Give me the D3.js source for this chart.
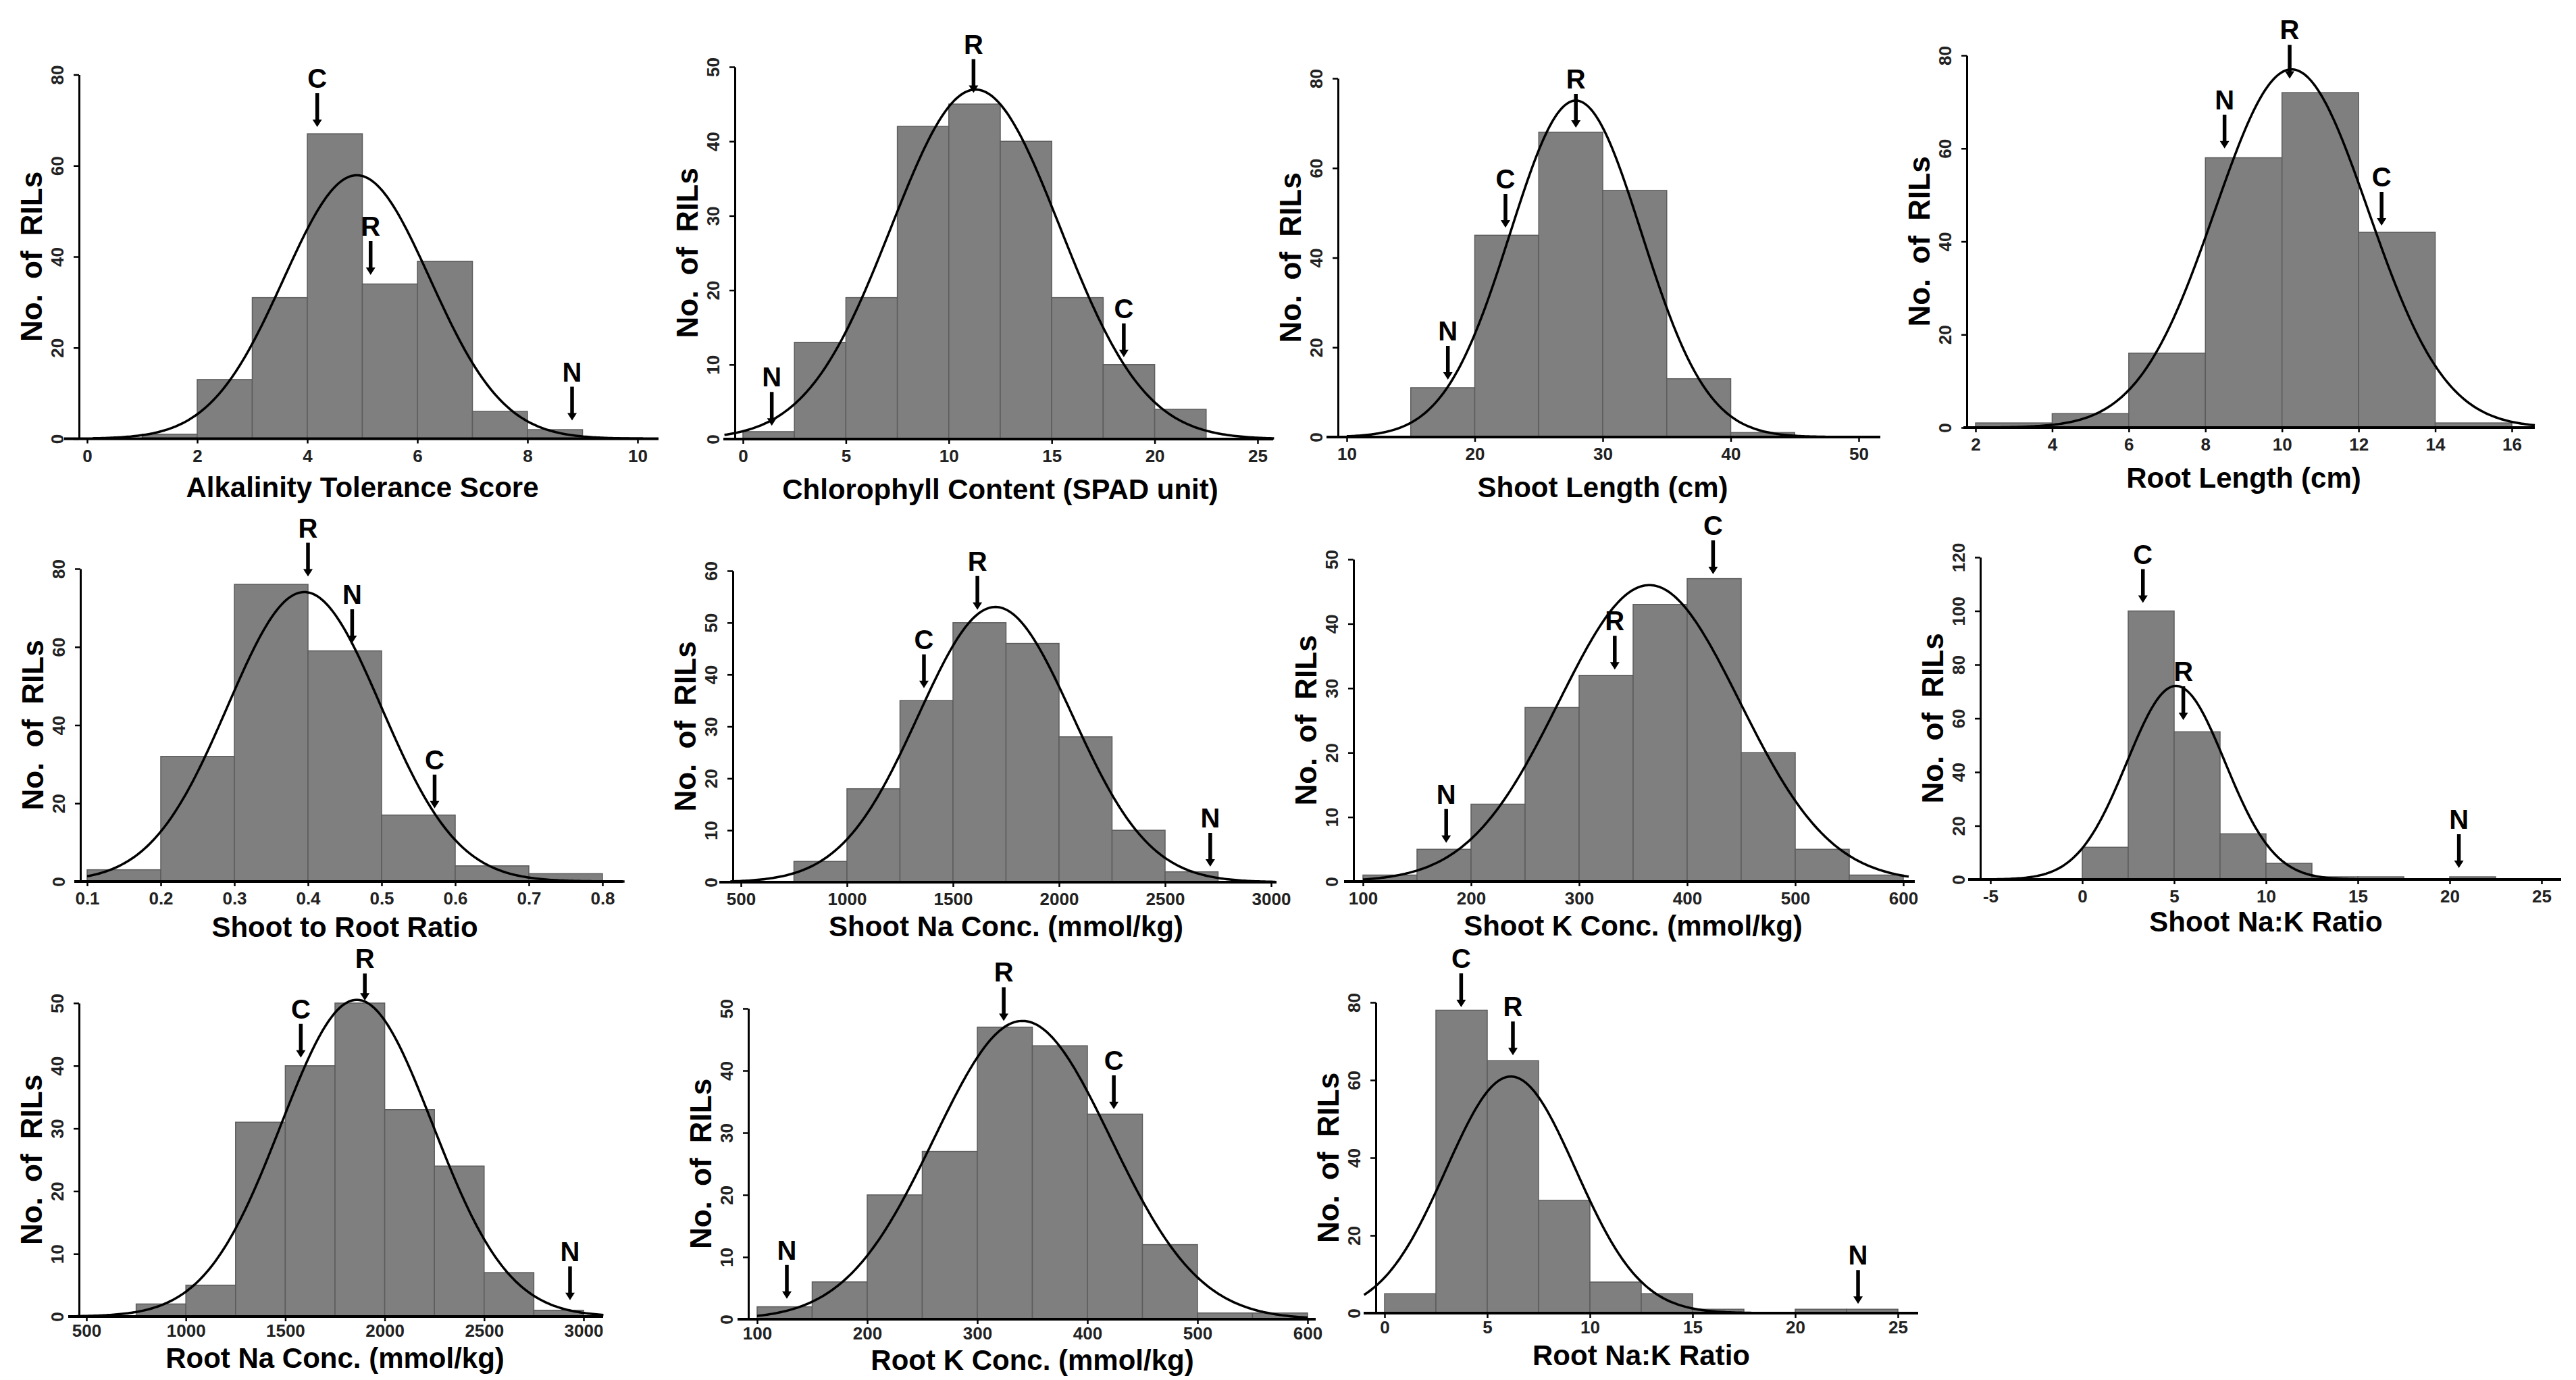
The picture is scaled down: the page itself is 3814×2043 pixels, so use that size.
<!DOCTYPE html>
<html lang="en">
<head>
    <meta charset="UTF-8">
    <title>RIL trait histograms</title>
    <style>
        body { margin: 0; background: #fff; }
        text { font-family: "Liberation Sans", Arial, sans-serif; }
    </style>
</head>
<body>
    <script src="https://d3js.org/d3.v7.min.js"></script>
    <script>
        // one entry per panel, row by row
        const xTitles = ['Alkalinity Tolerance Score', 'Chlorophyll Content (SPAD unit)', 'Shoot Length (cm)',
            'Root Length (cm)', 'Shoot to Root Ratio', 'Shoot Na Conc. (mmol/kg)', 'Shoot K Conc. (mmol/kg)',
            'Shoot Na:K Ratio', 'Root Na Conc. (mmol/kg)', 'Root K Conc. (mmol/kg)', 'Root Na:K Ratio'];
        const binStart = [1, 0, 15, 2, 0.1, 750, 100, 0, 750, 100, 0];
        const binWidth = [1, 2.5, 5, 2, 0.1, 250, 50, 2.5, 250, 50, 2.5];
        const counts = [
            [1, 13, 31, 67, 34, 39, 6, 2],
            [1, 13, 19, 42, 45, 40, 19, 10, 4],
            [11, 45, 68, 55, 13, 1],
            [1, 3, 16, 58, 72, 42, 1],
            [3, 32, 76, 59, 17, 4, 2],
            [4, 18, 35, 50, 46, 28, 10, 2],
            [1, 5, 12, 27, 32, 43, 47, 20, 5, 1],
            [12, 100, 55, 17, 6, 1, 1, 0, 1],
            [2, 5, 31, 40, 50, 33, 24, 7, 1],
            [2, 6, 20, 27, 47, 44, 33, 12, 1, 1],
            [5, 78, 65, 29, 8, 5, 1, 0, 1, 1]
        ];
        const xDomains = [[0, 10], [0, 25], [10, 50], [2, 16], [0.1, 0.8], [500, 3000], [100, 600], [-5, 25], [500, 3000], [100, 600], [0, 25]];
        const xTicks = [
            [0, 2, 4, 6, 8, 10],
            [0, 5, 10, 15, 20, 25],
            [10, 20, 30, 40, 50],
            [2, 4, 6, 8, 10, 12, 14, 16],
            [0.1, 0.2, 0.3, 0.4, 0.5, 0.6, 0.7, 0.8],
            [500, 1000, 1500, 2000, 2500, 3000],
            [100, 200, 300, 400, 500, 600],
            [-5, 0, 5, 10, 15, 20, 25],
            [500, 1000, 1500, 2000, 2500, 3000],
            [100, 200, 300, 400, 500, 600],
            [0, 5, 10, 15, 20, 25]
        ];
        const yMax = [80, 50, 80, 80, 80, 60, 50, 120, 50, 50, 80];
        const yTicks = [
            [0, 20, 40, 60, 80],
            [0, 10, 20, 30, 40, 50],
            [0, 20, 40, 60, 80],
            [0, 20, 40, 60, 80],
            [0, 20, 40, 60, 80],
            [0, 10, 20, 30, 40, 50, 60],
            [0, 10, 20, 30, 40, 50],
            [0, 20, 40, 60, 80, 100, 120],
            [0, 10, 20, 30, 40, 50],
            [0, 10, 20, 30, 40, 50],
            [0, 20, 40, 60, 80]
        ];
        // fitted normal curve: mean, sd, and the x extent it is drawn over
        const fitMean = [4.9, 11.3, 27.9, 10.25, 0.395, 1700, 365, 5.1, 1860, 341, 6.15];
        const fitSd = [1.33, 4.1, 5.13, 2.0, 0.104, 363, 83.7, 2.67, 381, 80.2, 3.16];
        const curveRange = [[0.1, 10.1], [-0.9, 25.8], [10, 50.7], [2, 16.6], [0.1, 0.83], [450, 3020], [100, 605], [-5.3, 25], [452, 3100], [100, 600], [-1, 25]];
        // parent markers: label, x value, y value at arrow tip (optional shaft length)
        const markers = [
            [['C', 4.18, 68.5], ['R', 5.15, 36], ['N', 8.81, 4]],
            [['R', 11.2, 46.5], ['C', 18.5, 11], ['N', 1.4, 1.8]],
            [['R', 27.9, 69], ['C', 22.4, 46.7], ['N', 17.9, 12.8]],
            [['R', 10.2, 75], ['N', 8.5, 60], ['C', 12.6, 43.4]],
            [['R', 0.4, 78], ['N', 0.46, 61], ['C', 0.572, 18.7]],
            [['R', 1615, 52.5], ['C', 1363, 37.4], ['N', 2713, 3]],
            [['C', 424, 47.7], ['R', 333, 32.9], ['N', 177, 6]],
            [['C', 3.3, 103], ['R', 5.5, 59.4], ['N', 20.5, 4.3]],
            [['R', 1900, 50.4, 40], ['C', 1578, 41.3], ['N', 2932, 2.6]],
            [['R', 324, 48], ['C', 424, 33.8], ['N', 127, 3.3]],
            [['C', 3.73, 78.8], ['R', 6.25, 66.4], ['N', 23.06, 2.4]]
        ];

        // pixel placement of each panel (tk = tick label top, tt = title centre, both below the baseline)
        const layout = [
            {x: [129, 944], y: [649.5, 110.5], ax: 117, line: [95, 975], tk: 16, tt: 72},
            {x: [1100, 1862], y: [650, 99], ax: 1088, line: [1071, 1885], tk: 16, tt: 74},
            {x: [1994, 2752], y: [647, 116], ax: 1981, line: [1964, 2784], tk: 16, tt: 74},
            {x: [2925, 3719], y: [633, 82], ax: 2912, line: [2907, 3753], tk: 16, tt: 74},
            {x: [129, 892], y: [1305, 842], ax: 119, line: [110, 922], tk: 16, tt: 67},
            {x: [1097, 1882], y: [1306, 845], ax: 1085, line: [1065, 1890], tk: 16, tt: 65},
            {x: [2018, 2818], y: [1305, 828], ax: 2004, line: [1990, 2835], tk: 16, tt: 65},
            {x: [2947, 3763], y: [1302, 825], ax: 2932, line: [2914, 3792], tk: 16, tt: 62},
            {x: [128, 864], y: [1949, 1485], ax: 117, line: [101, 893], tk: 12, tt: 61},
            {x: [1121, 1936], y: [1953, 1493], ax: 1108, line: [1092, 1948], tk: 12, tt: 60},
            {x: [2050, 2810], y: [1944, 1484], ax: 2037, line: [2019, 2840], tk: 12, tt: 62}
        ];

        const svg = d3.select('body').append('svg')
            .attr('width', 3814).attr('height', 2043)
            .style('display', 'block');

        xTitles.forEach((title, i) => {
            const L = layout[i];
            const x = d3.scaleLinear().domain(xDomains[i]).range(L.x);
            const y = d3.scaleLinear().domain([0, yMax[i]]).range(L.y);
            const g = svg.append('g');

            const bins = counts[i].map((c, k) => ({
                x0: binStart[i] + k * binWidth[i],
                x1: binStart[i] + (k + 1) * binWidth[i],
                c: c
            })).filter(d => d.c > 0);

            g.selectAll('rect.bar')
                .data(bins).enter()
                .append('rect')
                .attr('class', 'bar')
                .attr('x', d => x(d.x0))
                .attr('width', d => x(d.x1) - x(d.x0))
                .attr('y', d => y(d.c))
                .attr('height', d => y(0) - y(d.c))
                .attr('fill', '#7f7f7f')
                .attr('stroke', '#5c5c5c')
                .attr('stroke-width', 1.5);

            // x axis: long baseline plus labelled ticks
            g.append('line')
                .attr('x1', L.line[0]).attr('x2', L.line[1])
                .attr('y1', y(0)).attr('y2', y(0))
                .attr('stroke', '#000').attr('stroke-width', 4);
            const xa = g.append('g')
                .attr('transform', `translate(0,${y(0)})`)
                .call(d3.axisBottom(x).tickValues(xTicks[i]).tickFormat(d => String(d)).tickSize(7).tickSizeOuter(0));
            xa.select('.domain').remove();
            xa.selectAll('.tick line').attr('stroke', '#000').attr('stroke-width', 2.5);
            xa.selectAll('.tick text')
                .attr('y', L.tk)
                .attr('fill', '#222')
                .style('font-size', '26px')
                .style('font-weight', 'bold');

            // y axis with rotated labels
            const ya = g.append('g')
                .attr('transform', `translate(${L.ax},0)`)
                .call(d3.axisLeft(y).tickValues(yTicks[i]).tickSize(8).tickSizeOuter(0));
            ya.select('.domain').attr('stroke', '#000').attr('stroke-width', 3);
            ya.selectAll('.tick line').attr('stroke', '#000').attr('stroke-width', 2.5);
            ya.selectAll('.tick text')
                .attr('x', null).attr('dy', null)
                .attr('text-anchor', 'middle')
                .attr('dominant-baseline', 'central')
                .attr('transform', 'translate(-32,0) rotate(-90)')
                .attr('fill', '#222')
                .style('font-size', '26px')
                .style('font-weight', 'bold');

            // normal fit
            const n = d3.sum(counts[i]);
            const peak = n * binWidth[i] / (fitSd[i] * Math.sqrt(2 * Math.PI));
            const cr = curveRange[i];
            const pts = d3.range(0, 301).map(j => {
                const xv = cr[0] + (cr[1] - cr[0]) * j / 300;
                return [xv, peak * Math.exp(-((xv - fitMean[i]) ** 2) / (2 * fitSd[i] ** 2))];
            });
            g.append('path')
                .datum(pts)
                .attr('d', d3.line().x(d => x(d[0])).y(d => y(d[1])))
                .attr('fill', 'none')
                .attr('stroke', '#000')
                .attr('stroke-width', 3.5);

            // parent arrows
            markers[i].forEach(m => {
                const px = x(m[1]), py = y(m[2]);
                const len = m[3] || 50;
                g.append('path')
                    .attr('d', `M${px - 2.75},${py - len}L${px + 2.75},${py - len}L${px + 2.75},${py - 11}L${px + 7},${py - 11}L${px},${py}L${px - 7},${py - 11}L${px - 2.75},${py - 11}Z`)
                    .attr('fill', '#000');
                g.append('text')
                    .attr('x', px).attr('y', py - len - 8)
                    .attr('text-anchor', 'middle')
                    .style('font-family', '"Liberation Sans Narrow", "Arial Narrow", sans-serif')
                    .style('font-size', '40px')
                    .style('font-weight', 'bold')
                    .text(m[0]);
            });

            // titles
            g.append('text')
                .attr('x', (L.x[0] + L.x[1]) / 2)
                .attr('y', y(0) + L.tt)
                .attr('text-anchor', 'middle')
                .attr('dominant-baseline', 'central')
                .style('font-size', '42px')
                .style('font-weight', 'bold')
                .text(title);
            g.append('text')
                .attr('transform', `translate(${L.ax - 71},${(L.y[0] + L.y[1]) / 2}) rotate(-90)`)
                .attr('text-anchor', 'middle')
                .attr('dominant-baseline', 'central')
                .style('font-size', '44px')
                .style('font-weight', 'bold')
                .style('word-spacing', '10px')
                .text('No. of RILs');
        });
    </script>
</body>
</html>
